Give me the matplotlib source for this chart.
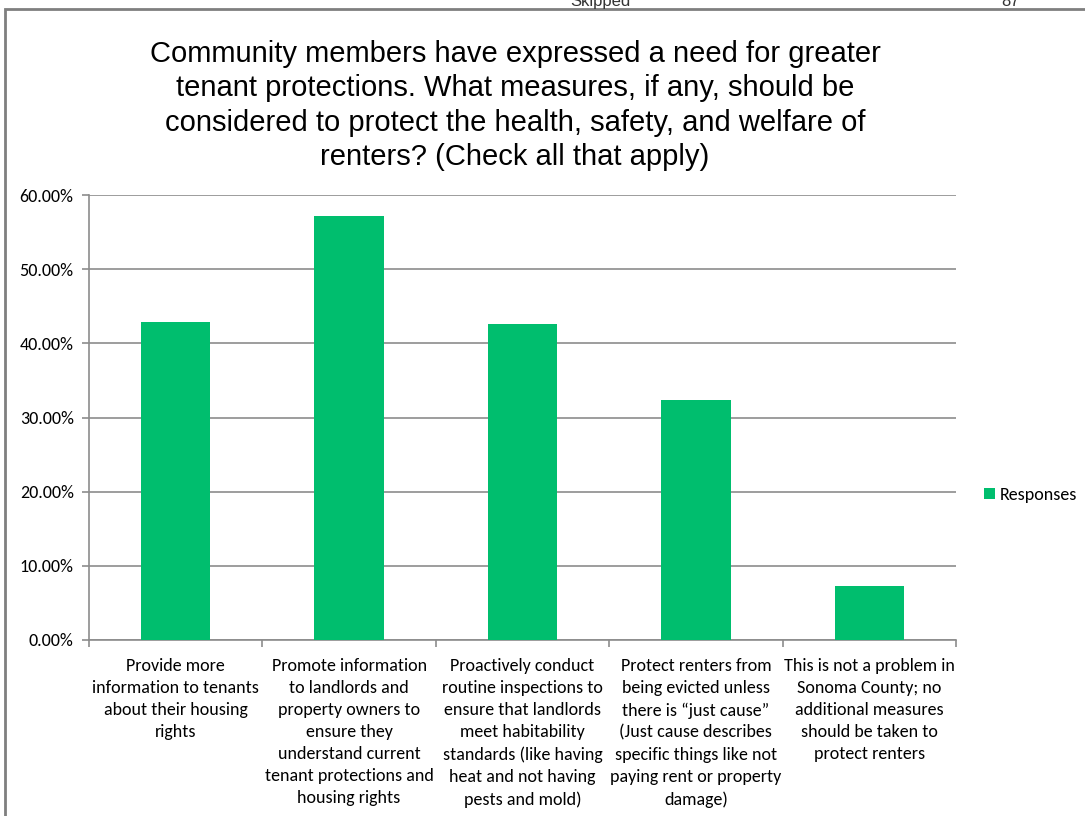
import numpy as np
import matplotlib.pyplot as plt
from matplotlib.ticker import PercentFormatter, FixedLocator

# survey results (share of respondents)
categories = [
    "Provide more\ninformation to tenants\nabout their housing\nrights",
    "Promote information\nto landlords and\nproperty owners to\nensure they\nunderstand current\ntenant protections and\nhousing rights",
    "Proactively conduct\nroutine inspections to\nensure that landlords\nmeet habitability\nstandards (like having\nheat and not having\npests and mold)",
    "Protect renters from\nbeing evicted unless\nthere is \u201cjust cause\u201d\n(Just cause describes\nspecific things like not\npaying rent or property\ndamage)",
    "This is not a problem in\nSonoma County; no\nadditional measures\nshould be taken to\nprotect renters",
]
responses = [42.9, 57.2, 42.6, 32.4, 7.3]
yticks = [0, 10, 20, 30, 40, 50, 60]

title = ("Community members have expressed a need for greater\n"
         "tenant protections. What measures, if any, should be\n"
         "considered to protect the health, safety, and welfare of\n"
         "renters? (Check all that apply)")

green = '#00BE6E'
grid_c = '#8C8C8C'
label_font = ['Carlito', 'Lato', 'DejaVu Sans']
fsize = 13

fig = plt.figure(figsize=(10.85, 8.16), dpi=100)
ax = fig.add_axes([89/1085, 1 - 640/816, (956-89)/1085, (640-195)/816])

x = np.arange(len(categories))
ax.bar(x, responses, width=0.40, color=green, label='Responses', zorder=3)

ax.set_xlim(-0.5, len(categories) - 0.5)
ax.set_ylim(0, 60)
ax.set_yticks(yticks)
ax.yaxis.set_major_formatter(PercentFormatter(decimals=2))
ax.grid(axis='y', color=grid_c, linewidth=1.2, zorder=0)

ax.set_xticks(x)
ax.set_xticklabels(categories, fontsize=fsize, family=label_font,
                   linespacing=1.46, va='top')
ax.tick_params(axis='x', which='major', length=0, pad=13)
ax.xaxis.set_minor_locator(FixedLocator(np.arange(-0.5, len(categories), 1)))
ax.tick_params(axis='x', which='minor', length=5, color=grid_c, width=1.2)
ax.tick_params(axis='y', length=5, color=grid_c, width=1.2, pad=6)
for lab in ax.get_yticklabels():
    lab.set_fontsize(fsize)
    lab.set_family(label_font)

for s in ['top', 'right']:
    ax.spines[s].set_visible(False)
for s in ['left', 'bottom']:
    ax.spines[s].set_color(grid_c)
    ax.spines[s].set_linewidth(1.2)

fig.text(515/1085, 1 - 40/816, title, ha='center', va='top', fontsize=21,
         family=['Liberation Sans', 'DejaVu Sans'], linespacing=1.29)

# chart frame and clipped header of the page above
frame = plt.Rectangle((5/1085, -0.1), 1.2, 1 - 9/816 + 0.1,
                      transform=fig.transFigure, fill=False,
                      edgecolor='#7F7F7F', linewidth=2)
fig.add_artist(frame)
fig.text(600/1085, 1 + 6/816, 'Skipped', ha='center', va='top', fontsize=12,
         family='Liberation Sans', color='#333333')
fig.text(1010/1085, 1 + 6/816, '87', ha='center', va='top', fontsize=12,
         family='Liberation Sans', color='#333333')

leg = ax.legend(loc='center left', bbox_to_anchor=(968/1085, 1 - 495/816),
                bbox_transform=fig.transFigure, frameon=False,
                handlelength=0.6, handleheight=0.6, handletextpad=0.25,
                prop={'family': label_font, 'size': fsize})

fig.savefig('out.png', dpi=100)
